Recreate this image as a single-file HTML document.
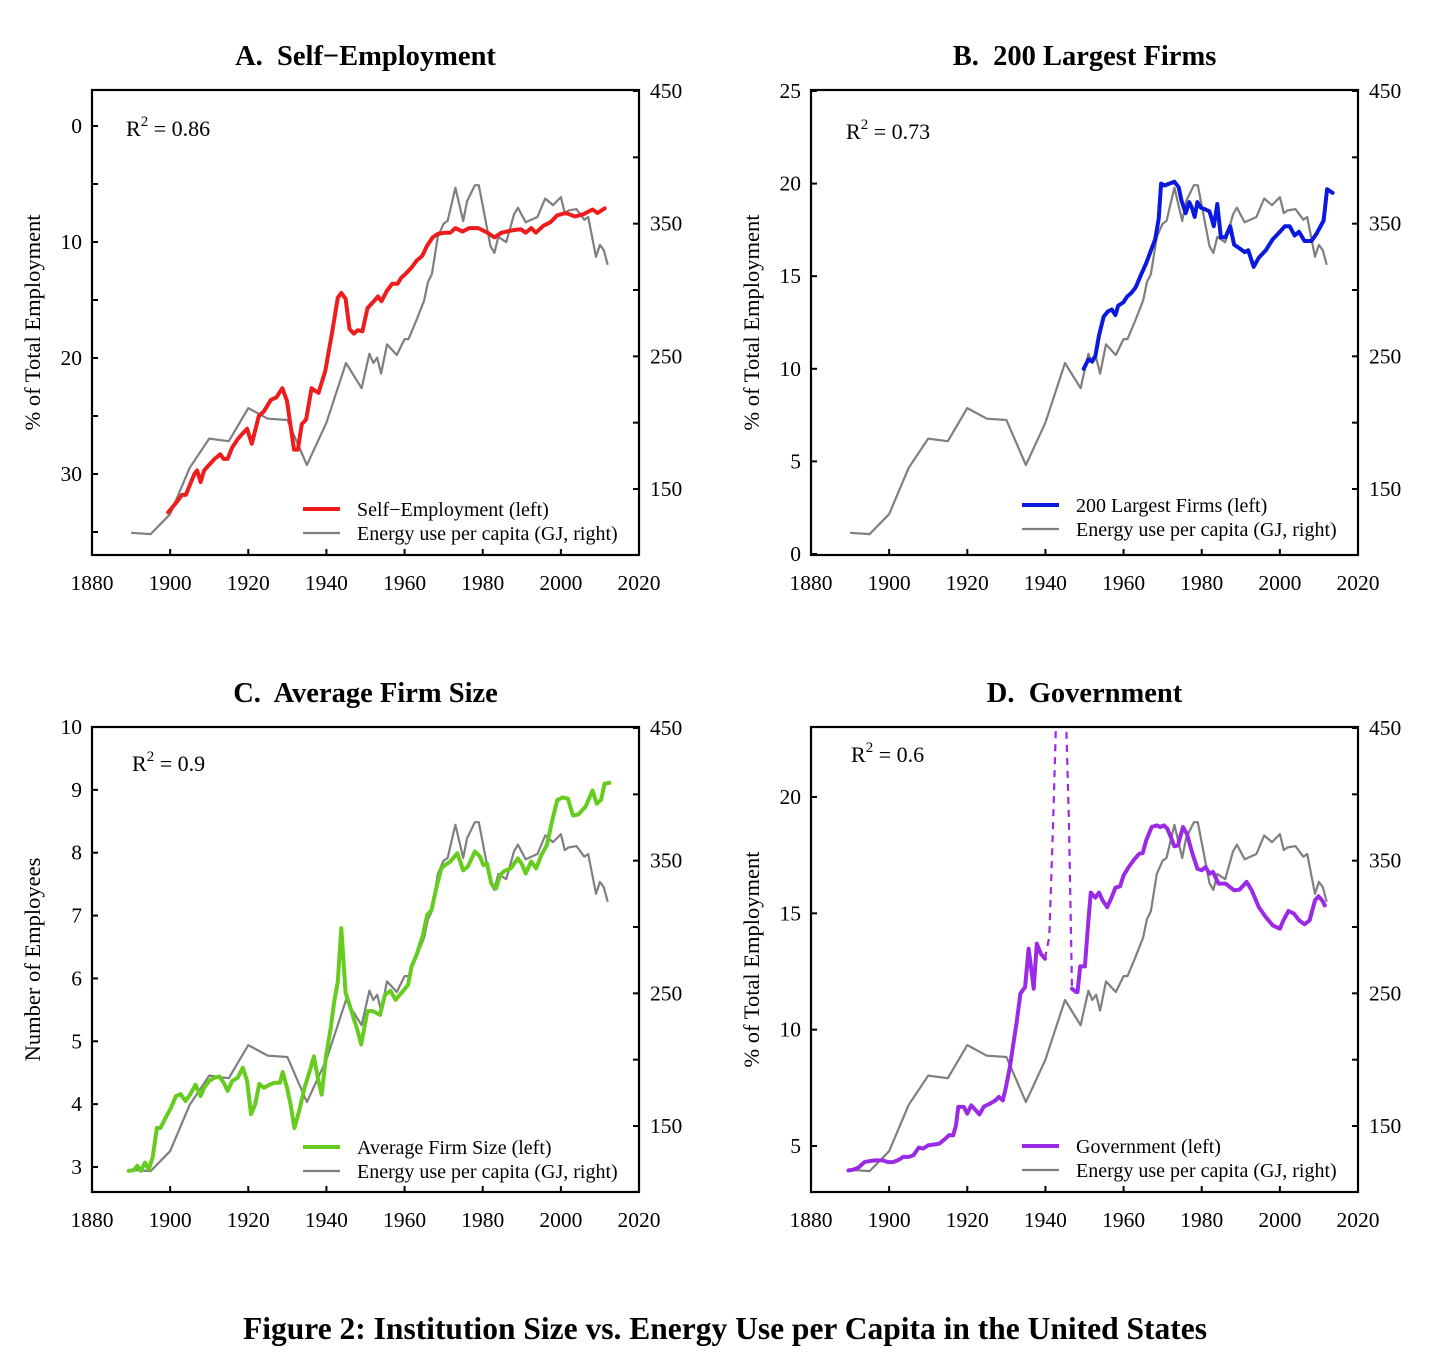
<!DOCTYPE html>
<html><head><meta charset="utf-8"><style>
html,body{margin:0;padding:0;background:#fff;}
svg{display:block;font-family:"Liberation Serif",serif;}
</style></head><body>
<svg id="fig" width="1456" height="1355" viewBox="0 0 1456 1355" xmlns="http://www.w3.org/2000/svg"></svg>
<script>
// ---- shared energy series (GJ per capita, right axis) ----
const energyYears = [1890,1895,1900,1905,1910,1915,1920,1925,1930,1935,1940,1945,1949,1951,1952,1953,1954,1955.5,1958,1960,1961,1963,1965,1966,1967,1968.5,1970,1971,1973,1975,1976,1978,1979,1982,1983,1984,1986,1988,1989,1991,1994,1996,1998,2000,2001,2002,2004,2006,2007,2009,2010,2011,2012];
const energyVals = [117,116,131,166,188,186,211,203,202,168,200,245,226,252,245,249,237,259,251,263,263,277,292,306,312,340,350,352,377,352,367,379,379,333,328,340,336,357,362,351,355,369,364,370,358,360,361,353,355,325,334,330,319];

// ---- A: self-employment (% of total employment) ----
const selfYears = [1899.5,1901.5,1903,1904,1905.1,1906.2,1906.9,1907.8,1908.7,1910,
1911.4,1912.8,1913.7,1914.7,1915.9,1917.3,1918.3,1919.7,1920.9,1922.7,
1924,1925.8,1927.2,1928.7,1929.9,1931.7,1932.7,1933.7,1934.8,1936.2,
1937,1938,1939.7,1941.5,1942.9,1943.8,1944.9,1945.9,1947,1948,
1949.2,1950.5,1951.9,1953.2,1954.1,1955.5,1956.8,1958.2,1959.1,1960.4,
1961.8,1963.1,1964.5,1965.8,1967.2,1968.5,1970.3,1971.7,1973,1974.8,
1976.6,1978.9,1981.2,1983,1984.8,1987.5,1989.7,1991,1992.4,1993.6,
1995.5,1997.3,1999.1,2001.3,2003.6,2005.8,2008.1,2009.4,2011.2];
const selfVals = [33.3,32.5,31.8,31.8,30.9,30.0,29.7,30.7,29.7,29.2,
28.7,28.3,28.7,28.7,27.7,27.0,26.6,26.1,27.4,25.0,
24.6,23.6,23.4,22.6,23.7,27.9,27.9,25.7,25.3,22.6,
22.8,23.0,21.1,17.7,14.8,14.4,14.9,17.5,17.9,17.6,
17.7,15.7,15.2,14.7,15.1,14.2,13.6,13.6,13.1,12.7,
12.2,11.6,11.2,10.3,9.6,9.3,9.2,9.2,8.8,9.1,
8.8,8.8,9.2,9.6,9.2,9.0,8.9,9.2,8.8,9.2,
8.6,8.3,7.7,7.5,7.8,7.6,7.2,7.5,7.1];

// ---- B: 200 largest firms ----
const firmsYears = [1949.8,1951,1951.9,1952.8,1953.7,1954.9,1956,1957,1957.9,1958.6,
1960,1960.9,1962,1963.1,1964.5,1965.8,1967.2,1968.1,1969,1969.6,
1970.5,1971.7,1973,1974.1,1974.8,1975.9,1976.8,1977.5,1978.2,1978.9,
1979.8,1981,1982,1983.1,1984,1984.9,1986.1,1987.3,1988.3,1989.7,
1991,1991.9,1993.3,1994.6,1996.4,1998.2,2000,2001.3,2002.5,2003.8,
2004.9,2006.3,2008.1,2009.4,2011.2,2012.1,2013.5];
const firmsVals = [10.0,10.5,10.4,10.7,11.8,12.8,13.1,13.2,12.9,13.4,
13.6,13.9,14.1,14.4,15.1,15.7,16.5,17.0,18.1,20.0,
19.9,20.0,20.1,19.8,19.1,18.4,19.0,18.7,18.2,19.0,
18.7,18.6,18.5,17.7,18.9,17.1,17.1,17.7,16.7,16.5,
16.3,16.4,15.5,16.0,16.4,17.0,17.4,17.7,17.7,17.2,
17.4,16.9,16.9,17.3,18.0,19.7,19.5];

// ---- C: average firm size ----
const sizeYears = [1889.4,1890.7,1891.6,1892.5,1893.6,1894.5,1895.5,1896.6,1897.5,1898.8,
1900.2,1901.5,1902.7,1903.9,1905.1,1906.5,1907.8,1908.7,1910,1911.4,
1912.6,1913.7,1914.7,1915.9,1917.3,1918.6,1919.7,1920.7,1921.8,1922.8,
1924,1925.4,1926.7,1928.1,1928.8,1929.9,1930.8,1931.8,1933,1934.4,
1935.7,1936.8,1937.8,1938.8,1939.9,1941.1,1942,1942.9,1943.8,1944.9,
1946,1947.1,1947.8,1948.9,1950.5,1951.9,1953.7,1955,1956.4,1957.7,
1959.5,1960.9,1961.8,1963.1,1964.7,1965.8,1966.9,1968.1,1969.4,1970.3,
1971.7,1973.5,1975,1976.2,1978,1979.3,1980.2,1981.1,1982.2,1983.4,
1984.5,1985.6,1987.2,1989,1990,1991,1992.4,1993.7,1995,1996.4,
1997.7,1999.1,2000.5,2001.8,2003.1,2004.5,2006.3,2008.1,2009.2,2010.3,
2011.2,2012.4];
const sizeVals = [2.94,2.95,3.02,2.94,3.07,2.96,3.15,3.62,3.62,3.78,
3.94,4.13,4.16,4.05,4.15,4.31,4.13,4.26,4.37,4.42,
4.44,4.34,4.21,4.37,4.42,4.58,4.37,3.84,4.0,4.32,
4.26,4.31,4.34,4.34,4.51,4.26,4.0,3.62,3.89,4.26,
4.52,4.76,4.42,4.15,4.76,5.21,5.63,5.95,6.80,5.77,
5.56,5.34,5.21,4.95,5.48,5.48,5.42,5.74,5.80,5.66,
5.79,5.90,6.19,6.38,6.69,7.01,7.09,7.43,7.75,7.80,
7.86,7.99,7.72,7.78,8.02,7.94,7.80,7.83,7.51,7.43,
7.65,7.71,7.75,7.91,7.82,7.67,7.86,7.75,7.96,8.12,
8.49,8.84,8.88,8.86,8.59,8.61,8.73,8.99,8.78,8.84,
9.10,9.11];

// ---- D: government ----
const govYears1 = [1889.6,1890.8,1892.1,1893.7,1895.2,1896.6,1898.4,1899.7,1900.9,1902.2,
1903.6,1905.1,1906.2,1907.6,1908.7,1910,1911.7,1912.8,1914.1,1915.3,
1916.4,1917.1,1917.7,1919.1,1920,1921,1922.2,1923.1,1924.3,1925.8,
1927.2,1928.1,1929.1,1929.9,1930.9,1931.8,1932.7,1933.6,1934.8,1935.7,
1936.3,1937,1937.8,1938.8,1939.9];
const govVals1 = [3.95,3.98,4.07,4.31,4.36,4.38,4.38,4.31,4.31,4.38,
4.53,4.53,4.60,4.93,4.89,5.03,5.07,5.10,5.27,5.46,
5.46,5.89,6.68,6.68,6.39,6.75,6.53,6.36,6.70,6.82,
6.96,7.11,6.96,7.54,8.40,9.40,10.4,11.55,11.83,13.48,
12.69,11.76,13.70,13.27,13.05];
const govWarYears = [1939.9,1941,1942,1943,1944,1945,1946,1946.8];
const govWarVals = [13.05,14.0,19,25,26,25,19,11.76];
const govYears2 = [1946.8,1947.8,1948.2,1948.9,1950.1,1951,1951.6,1952.8,1953.7,1954.6,
1955.8,1956.8,1957.9,1959.1,1960,1961.3,1962.7,1964,1964.9,1965.8,
1967.2,1968.5,1969.4,1970.3,1971.2,1972.1,1973,1973.9,1975.2,1976.2,
1977.5,1978.9,1980,1981,1982,1982.9,1984.3,1986.1,1988.3,1989.7,
1991.5,1992.8,1994.6,1996.4,1998.2,2000,2000.9,2002.2,2003.6,2004.9,
2006.3,2007.6,2009,2009.9,2010.8,2011.5];
const govVals2 = [11.76,11.62,11.62,12.72,12.72,14.70,15.89,15.67,15.89,15.56,
15.27,15.63,16.1,16.16,16.63,16.99,17.31,17.56,17.59,18.14,
18.71,18.78,18.71,18.78,18.64,18.28,17.88,17.92,18.71,18.42,
17.64,16.92,16.85,16.99,16.70,16.78,16.28,16.28,15.99,16.02,
16.35,15.99,15.27,14.84,14.48,14.34,14.70,15.10,14.99,14.70,
14.53,14.70,15.56,15.73,15.56,15.34];

const xTicks = [1880,1900,1920,1940,1960,1980,2000,2020];
const rightTicks = [150,200,250,300,350,400,450];
const rightLabels = [150,250,350,450];

const NS = "http://www.w3.org/2000/svg";
const svg = document.getElementById('fig');
function mk(tag, attrs, parent, txt){
  const e = document.createElementNS(NS, tag);
  for (const k in attrs) e.setAttribute(k, attrs[k]);
  if (txt !== undefined) e.textContent = txt;
  (parent || svg).appendChild(e);
  return e;
}
function lin(v1, p1, v2, p2){ return v => p1 + (v - v1) * (p2 - p1) / (v2 - v1); }

const panels = [
  {id:'a', title:'A.\u00a0 Self\u2212Employment', x0:92, x1:639, y0:90, y1:555,
   L:[0,126,30,474], R:[450,91,150,489], leftTicks:[0,5,10,15,20,25,30,35], leftLabels:[0,10,20,30],
   ytitle:'% of Total Employment', r2:'0.86', r2x:126, r2y:136,
   series:[{name:'self-employment-line', years:selfYears, vals:selfVals, color:'#ee1c1c'}],
   legend:'Self\u2212Employment (left)', legY:509, color:'#ee1c1c'},
  {id:'b', title:'B.\u00a0 200 Largest Firms', x0:811, x1:1358, y0:90, y1:555,
   L:[0,554,25,91], R:[450,91,150,489], leftTicks:[0,5,10,15,20,25], leftLabels:[0,5,10,15,20,25],
   ytitle:'% of Total Employment', r2:'0.73', r2x:846, r2y:139,
   series:[{name:'largest-firms-line', years:firmsYears, vals:firmsVals, color:'#0a18e0'}],
   legend:'200 Largest Firms (left)', legY:505, color:'#0a18e0'},
  {id:'c', title:'C.\u00a0 Average Firm Size', x0:92, x1:639, y0:727, y1:1192,
   L:[10,727,3,1167], R:[450,728,150,1126], leftTicks:[3,4,5,6,7,8,9,10], leftLabels:[3,4,5,6,7,8,9,10],
   ytitle:'Number of Employees', r2:'0.9', r2x:132, r2y:771,
   series:[{name:'avg-firm-size-line', years:sizeYears, vals:sizeVals, color:'#66cc1e'}],
   legend:'Average Firm Size (left)', legY:1147, color:'#66cc1e'},
  {id:'d', title:'D.\u00a0 Government', x0:811, x1:1358, y0:727, y1:1192,
   L:[20,797,5,1146], R:[450,728,150,1126], leftTicks:[5,10,15,20], leftLabels:[5,10,15,20],
   ytitle:'% of Total Employment', r2:'0.6', r2x:851, r2y:762,
   series:[{name:'government-line-prewar', years:govYears1, vals:govVals1, color:'#9b2ae6'},
           {name:'government-line-war', years:govWarYears, vals:govWarVals, color:'#9b2ae6', dash:true},
           {name:'government-line-postwar', years:govYears2, vals:govVals2, color:'#9b2ae6'}],
   legend:'Government (left)', legY:1146, color:'#9b2ae6'}
];

panels.forEach(p => {
  const g = mk('g', {});
  
  
  const xs = lin(1880, p.x0, 2020, p.x1);
  const yl = lin(p.L[0], p.L[1], p.L[2], p.L[3]);
  const yr = lin(p.R[0], p.R[1], p.R[2], p.R[3]);
  const cx = (p.x0 + p.x1) / 2;

  const t = mk('text', {x:cx, y:p.y0 - 25, 'text-anchor':'middle', 'font-size':28.5, 'font-weight':'bold'}, g, p.title);
  
  

  const clipId = 'clip-' + p.id;
  const cp = mk('clipPath', {id:clipId}, g);
  mk('rect', {x:p.x0, y:p.y0, width:p.x1 - p.x0, height:p.y1 - p.y0}, cp);

  const ePts = energyYears.map((yv, i) => xs(yv).toFixed(1) + ',' + yr(energyVals[i]).toFixed(1)).join(' ');
  const el = mk('polyline', {points:ePts, fill:'none', stroke:'#7f7f7f', 'stroke-width':2.2, 'stroke-linejoin':'round', 'clip-path':'url(#' + clipId + ')'}, g);
  
  

  p.series.forEach(s => {
    const pts = s.years.map((yv, i) => xs(yv).toFixed(1) + ',' + yl(s.vals[i]).toFixed(1)).join(' ');
    const attrs = {points:pts, fill:'none', stroke:s.color, 'stroke-width':s.dash ? 2.2 : 4, 'stroke-linejoin':'round', 'stroke-linecap':'round', 'clip-path':'url(#' + clipId + ')'};
    if (s.dash) { attrs['stroke-dasharray'] = '7,6'; attrs['stroke-linecap'] = 'butt'; }
    const sl = mk('polyline', attrs, g);
    
    
  });

  const box = mk('rect', {x:p.x0, y:p.y0, width:p.x1 - p.x0, height:p.y1 - p.y0, fill:'none', stroke:'#000', 'stroke-width':2.2}, g);
  
  

  xTicks.forEach(v => {
    const x = xs(v);
    if (v > 1880 && v < 2020) mk('line', {x1:x, y1:p.y1, x2:x, y2:p.y1 - 6, stroke:'#000', 'stroke-width':2}, g);
    const lb = mk('text', {x:x, y:p.y1 + 35, 'text-anchor':'middle', 'font-size':21.5}, g, String(v));
    
    
  });
  p.leftTicks.forEach(v => {
    const y = yl(v);
    mk('line', {x1:p.x0, y1:y, x2:p.x0 + 6, y2:y, stroke:'#000', 'stroke-width':2}, g);
  });
  p.leftLabels.forEach(v => {
    const lb = mk('text', {x:p.x0 - 10, y:yl(v) + 7, 'text-anchor':'end', 'font-size':21.5}, g, String(v));
    
    
  });
  rightTicks.forEach(v => {
    const y = yr(v);
    mk('line', {x1:p.x1, y1:y, x2:p.x1 - 6, y2:y, stroke:'#000', 'stroke-width':2}, g);
  });
  rightLabels.forEach(v => {
    const lb = mk('text', {x:p.x1 + 11, y:yr(v) + 7, 'font-size':21.5}, g, String(v));
    
    
  });

  const ytx = p.x0 - 52, yty = (p.y0 + p.y1) / 2;
  const yt = mk('text', {x:ytx, y:yty, 'text-anchor':'middle', 'font-size':22.5, transform:'rotate(-90 ' + ytx + ' ' + yty + ')'}, g, p.ytitle);
  
  

  const r2 = mk('text', {x:p.r2x, y:p.r2y, 'font-size':22}, g);
  
  
  mk('tspan', {}, r2, 'R');
  mk('tspan', {dy:-10, 'font-size':15}, r2, '2');
  mk('tspan', {dy:10}, r2, ' = ' + p.r2);

  const lx = p.x0 + 211;
  const lg = mk('g', {}, g);
  
  
  mk('line', {x1:lx, y1:p.legY, x2:lx + 37, y2:p.legY, stroke:p.color, 'stroke-width':4}, lg);
  mk('text', {x:lx + 54, y:p.legY + 7, 'font-size':20}, lg, p.legend);
  mk('line', {x1:lx, y1:p.legY + 24, x2:lx + 37, y2:p.legY + 24, stroke:'#7f7f7f', 'stroke-width':2.2}, lg);
  mk('text', {x:lx + 54, y:p.legY + 31, 'font-size':20}, lg, 'Energy use per capita (GJ, right)');
});

const cap = mk('text', {x:725, y:1339, 'text-anchor':'middle', 'font-size':31.5, 'font-weight':'bold'}, svg, 'Figure 2: Institution Size vs. Energy Use per Capita in the United States');


</script>
</body></html>
